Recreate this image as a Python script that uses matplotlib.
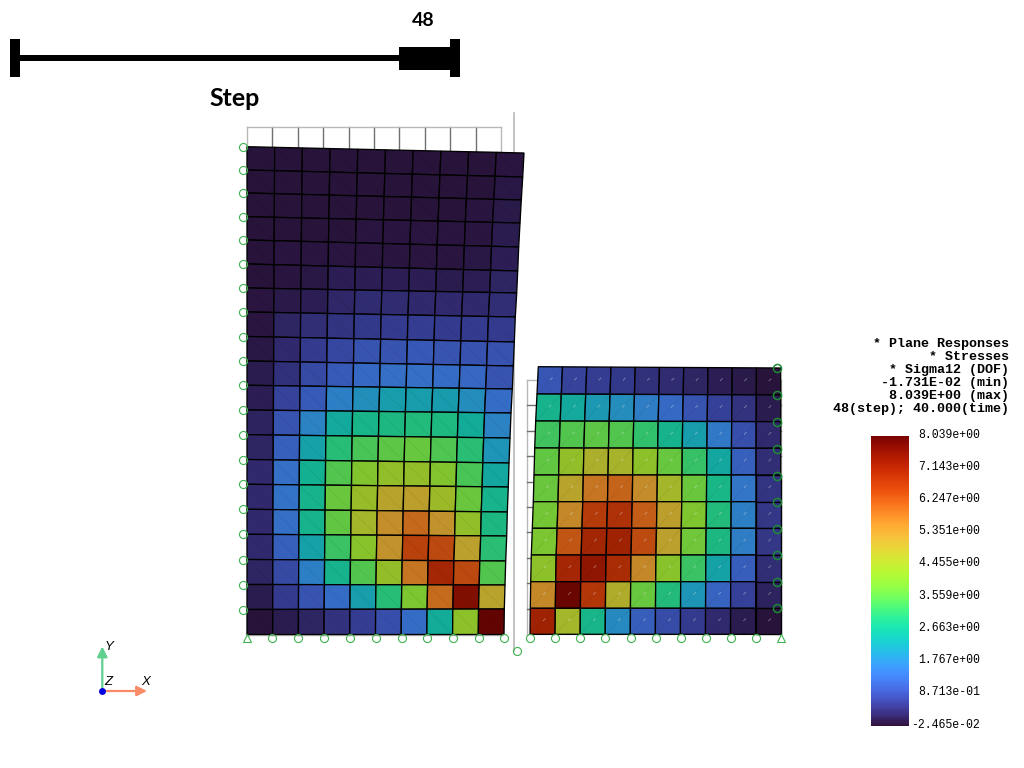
import numpy as np
from matplotlib import pyplot as plt
from matplotlib.colors import ListedColormap, Normalize
from matplotlib.cm import ScalarMappable
from matplotlib.patches import Rectangle

# stress per cell, top row first
left_stress = [
    [.05, .05, .05, .05, .05, .05, .05, .05, .05, .10],
    [.05, .05, .05, .05, .05, .05, .05, .05, .05, .12],
    [.05, .05, .05, .05, .06, .06, .06, .06, .07, .14],
    [.05, .05, .06, .06, .07, .07, .08, .08, .10, .18],
    [.05, .07, .08, .10, .10, .10, .10, .10, .13, .22],
    [.05, .10, .12, .20, .22, .22, .20, .18, .22, .30],
    [.07, .14, .22, .35, .40, .40, .38, .38, .38, .44],
    [.08, .30, .44, .52, .60, .62, .65, .62, .62, .62],
    [.12, .36, .62, .82, 1.0, 1.0, 1.05, 1.0, .98, .98],
    [.18, .45, .84, 1.1, 1.35, 1.45, 1.45, 1.4, 1.3, 1.0],
    [.22, .75, 1.1, 1.7, 1.95, 2.2, 2.2, 2.15, 1.9, 1.4],
    [.26, 1.0, 1.75, 2.45, 2.75, 2.85, 2.95, 2.9, 2.5, 1.75],
    [.30, 1.2, 2.25, 3.0, 3.4, 3.6, 3.7, 3.45, 3.05, 2.05],
    [.36, 1.45, 2.6, 3.5, 4.05, 4.3, 4.35, 4.05, 3.4, 2.4],
    [.36, 1.5, 2.7, 3.75, 4.4, 5.0, 5.1, 4.45, 3.75, 2.7],
    [.36, 1.45, 2.7, 3.65, 4.6, 5.4, 5.95, 5.3, 4.3, 2.85],
    [.36, 1.2, 2.25, 3.25, 4.15, 5.3, 6.5, 6.4, 5.05, 3.05],
    [.30, .85, 1.7, 2.7, 3.5, 4.35, 5.8, 7.0, 6.4, 3.5],
    [.18, .62, 1.0, 1.4, 2.2, 3.0, 3.95, 5.9, 7.6, 5.0],
    [.05, .18, .30, .48, .66, .9, 1.4, 2.5, 4.2, 8.0],
]
right_stress = [
    [1.02, .75, .66, .58, .45, .40, .30, .22, .14, .05],
    [2.7, 2.45, 2.1, 1.9, 1.65, 1.35, 1.0, .7, .48, .18],
    [3.3, 3.5, 3.6, 3.5, 3.15, 2.7, 2.2, 1.6, .92, .36],
    [3.65, 4.3, 4.75, 4.65, 4.2, 3.7, 3.2, 2.4, 1.2, .44],
    [3.75, 5.0, 5.8, 6.0, 5.45, 4.6, 3.75, 2.8, 1.55, .52],
    [3.85, 5.5, 6.6, 6.8, 6.1, 5.1, 4.0, 2.95, 1.7, .56],
    [3.95, 6.2, 7.05, 7.1, 6.35, 5.05, 3.8, 2.85, 1.65, .56],
    [4.2, 7.0, 7.4, 6.9, 5.5, 4.15, 3.25, 2.3, 1.15, .44],
    [5.5, 7.9, 6.7, 4.8, 3.7, 2.95, 2.05, 1.25, .7, .26],
    [7.1, 4.6, 2.75, 1.85, 1.15, .88, .62, .36, .18, .05],
]

# deformed outline of both blocks, pixels
left_edge_y = [146.7, 170, 193, 216.7, 240, 264, 288, 312, 336.5, 361, 385.3, 410, 434.7,
               459.5, 484.3, 509.3, 534.3, 559.5, 584.5, 609.5, 634.5]
left_right_y = [153, 177, 200, 223, 247, 271, 293, 317, 342, 366, 389, 413, 438, 463, 487,
                512, 536, 561, 585, 609, 634.5]
left_right_x = [524, 522.7, 521.3, 520, 518.7, 517.7, 516.7, 515.3, 514.3, 513.3, 512.3, 511,
                510, 509, 508.3, 507.3, 506.7, 505.7, 505, 504.3, 504]
left_x0 = 247

right_left_x = [538.3, 537, 535.7, 534.7, 534, 533.3, 532.3, 531.3, 530.7, 530.3, 530]
right_left_y = [366.7, 394, 421, 448, 475, 501.7, 528.3, 555, 581.7, 608.3, 634.3]
right_right_y = [368, 395, 421.7, 448.3, 475, 501.7, 528.3, 555, 581.7, 608.3, 634.3]
right_x1 = 780.7

# boundary condition markers
left_bc_x = 243
left_base_x = [272.3, 298.3, 324.3, 350, 376, 401.7, 427.3, 453.3, 479, 504]
right_bc_x = 776.7
right_bc_y = [368.3, 395.3, 422, 449, 475.7, 502, 528.7, 555.3, 582, 608.3]
right_base_x = [529.7, 555, 580, 605.3, 630.7, 655.7, 680.7, 705.7, 730.7, 755.7]
base_y = 638.3

header_lines = ["* Plane Responses", "* Stresses", "* Sigma12 (DOF)", "-1.731E-02 (min)",
                "8.039E+00 (max)", "48(step); 40.000(time)"]
bar_values = [-2.465e-02, 8.713e-01, 1.767, 2.663, 3.559, 4.455, 5.351, 6.247, 7.143, 8.039]
step_label = "48"

MESH_SHADE = 0.78
GREEN = "#3fb24f"
DARK_GREEN = "#1c8a34"


def quad_nodes(xa, ya, xb, yb):
    t = np.linspace(0, 1, 11)
    xa, ya, xb, yb = [np.asarray(v, dtype=float)[:, None] for v in (xa, ya, xb, yb)]
    return xa + (xb - xa) * t, ya + (yb - ya) * t


def undeformed_grid(ax, x0, y0, nx, ny, size=25.4):
    xs = x0 + size * np.arange(nx + 1)
    ys = y0 + size * np.arange(ny + 1)
    for i, x in enumerate(xs):
        c = "#b8b8b8" if i in (0, nx) else "#707070"
        ax.plot([x, x], [ys[0], ys[-1]], color=c, lw=1, zorder=1)
    for j, y in enumerate(ys):
        c = "#b8b8b8" if j in (0, ny) else "#707070"
        ax.plot([xs[0], xs[-1]], [y, y], color=c, lw=1, zorder=1)


def draw_mesh(ax, x, y, stress, cmap, norm):
    stress = np.array(stress)
    for i in range(stress.shape[0]):
        for j in range(stress.shape[1]):
            ax.fill([x[i, j], x[i, j + 1], x[i + 1, j + 1], x[i + 1, j]],
                    [y[i, j], y[i, j + 1], y[i + 1, j + 1], y[i + 1, j]],
                    facecolor=cmap(norm(stress[i, j])), edgecolor="black", lw=0.95, zorder=2)


fig = plt.figure(figsize=(10.24, 7.68), dpi=100)
ax = fig.add_axes([0, 0, 1, 1])
ax.set_xlim(0, 1024)
ax.set_ylim(768, 0)
ax.axis("off")

# slider
for x, y, w, h in [(10, 39, 10, 38), (450, 39, 10, 38), (20, 55, 430, 6), (399, 46.5, 51, 23)]:
    ax.add_patch(Rectangle((x, y), w, h, color="black", lw=0))
ax.text(423, 21, step_label, family="Lato", weight="bold", fontsize=14, ha="center", va="center")
ax.text(234.5, 98, "Step", family="Lato", weight="bold", fontsize=18, ha="center", va="center")

undeformed_grid(ax, 247, 127, 10, 20)
undeformed_grid(ax, 527, 380, 10, 10)
ax.plot([514, 514], [113, 651], color="#b8b8b8", lw=1.2, zorder=1.5)

# meshes
turbo = plt.get_cmap("turbo")(np.linspace(0, 1, 256))
turbo[:, :3] *= MESH_SHADE
shaded = ListedColormap(turbo)
norm = Normalize(bar_values[0], bar_values[-1])

lx, ly = quad_nodes([left_x0] * 21, left_edge_y, left_right_x, left_right_y)
rx, ry = quad_nodes(right_left_x, right_left_y, [right_x1] * 11, right_right_y)
draw_mesh(ax, lx, ly, left_stress, shaded, norm)
draw_mesh(ax, rx, ry, right_stress, shaded, norm)

# triangle split of the quads just shows through
for i in range(20):
    for j in range(10):
        ax.plot([lx[i, j], lx[i + 1, j + 1]], [ly[i, j], ly[i + 1, j + 1]],
                color="black", lw=0.5, alpha=0.08, zorder=2.1)
for i in range(10):
    for j in range(10):
        x0, y0 = rx[i + 1, j], ry[i + 1, j]
        x1, y1 = rx[i, j + 1], ry[i, j + 1]
        ax.plot([x0, x1], [y0, y1], color="black", lw=0.5, alpha=0.08, zorder=2.1)
        ax.plot([x0 + .52 * (x1 - x0), x0 + .6 * (x1 - x0)], [y0 + .52 * (y1 - y0), y0 + .6 * (y1 - y0)],
                color="white", lw=0.6, alpha=0.4, zorder=2.2)

# supports
marker = dict(mfc="none", ms=5.8, mew=0.8, ls="none", zorder=3)
ax.plot([left_bc_x] * 20, left_edge_y[:20], "o", color=GREEN, **marker)
ax.plot(left_base_x, [base_y] * len(left_base_x), "o", color=GREEN, **marker)
ax.plot([left_x0], [base_y], "^", color=GREEN, **marker)
ax.plot([516.5], [651], "o", color=GREEN, **marker)
ax.plot([right_bc_x] * 10, right_bc_y, "o", color=DARK_GREEN, **dict(marker, mew=1.1))
ax.plot(right_base_x, [base_y] * len(right_base_x), "o", color=GREEN, **marker)
ax.plot([right_x1], [base_y], "^", color=GREEN, **marker)

# orientation triad
ax.annotate("", xy=(102.3, 646.5), xytext=(102.3, 691), zorder=3,
            arrowprops=dict(arrowstyle="-|>,head_width=0.3,head_length=0.6", color="#5fd08e", lw=1.6, shrinkA=0, shrinkB=0))
ax.annotate("", xy=(147, 691), xytext=(102.3, 691), zorder=3,
            arrowprops=dict(arrowstyle="-|>,head_width=0.3,head_length=0.6", color="#f98b66", lw=1.6, shrinkA=0, shrinkB=0))
ax.plot([102.3], [691], "o", color="#0000e0", ms=5, mew=0, zorder=4)
for x, y, s in [(145.3, 682, "X"), (109.3, 647.3, "Y"), (108, 681.7, "Z")]:
    ax.text(x, y, s, family="Liberation Sans", style="italic", fontsize=9.5, ha="center", va="center", zorder=4)

# result header
for k, line in enumerate(header_lines):
    ax.text(1009, 344.3 + 13 * k, line, family="Liberation Mono", weight="bold", fontsize=9.6,
            ha="right", va="center")

# colour bar, labels right aligned and sitting a little above their values
cax = fig.add_axes([871 / 1024, 1 - 726 / 768, 38 / 1024, 290 / 768])
cbar = fig.colorbar(ScalarMappable(norm=norm, cmap="turbo"), cax=cax, ticks=bar_values)
cbar.outline.set_visible(False)
cax.set_yticks(bar_values)
cax.set_yticklabels([])
cax.tick_params(length=0)
for v in bar_values:
    y = 726 - 290 * norm(v)
    ax.text(980, y - 1.5, f"{v:.3e}", family="Liberation Mono", fontsize=8.3, ha="right", va="center")

plt.savefig("out.png", dpi=100)
